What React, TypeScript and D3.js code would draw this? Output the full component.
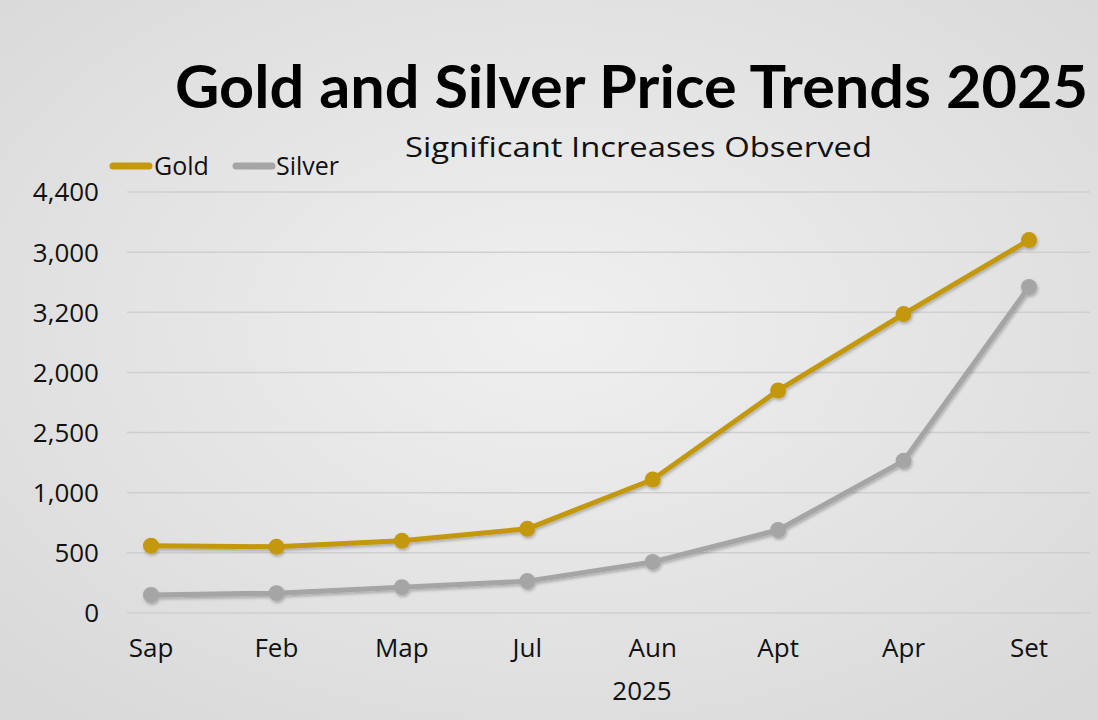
import React, { useEffect, useRef } from 'react';
import * as d3 from 'd3';

// months as printed on the x axis
const months = ['Sap', 'Feb', 'Map', 'Jul', 'Aun', 'Apt', 'Apr', 'Set'];
// y tick labels as printed (bottom to top), evenly spaced gridlines
const yTickLabels = ['0', '500', '1,000', '2,500', '2,000', '3,200', '3,000', '4,400'];
// values measured in gridline steps (0 = bottom line, 7 = top line)
const goldValues = [1.12, 1.1, 1.2, 1.4, 2.22, 3.7, 4.97, 6.2];
const silverValues = [0.3, 0.33, 0.43, 0.53, 0.85, 1.38, 2.53, 5.42];

const series = [
  { name: 'Gold', values: goldValues, color: '#c4980f' },
  { name: 'Silver', values: silverValues, color: '#a5a5a5' },
];

const W = 1098;
const H = 720;
const FONT = '"Open Sans", sans-serif';

const App = () => {
  const ref = useRef<SVGSVGElement>(null);

  useEffect(() => {
    const svg = d3.select(ref.current);
    svg.selectAll('*').remove();

    const defs = svg.append('defs');
    const bg = defs.append('radialGradient').attr('id', 'bg')
      .attr('cx', '50%').attr('cy', '45%').attr('r', '70%');
    bg.append('stop').attr('offset', '0%').attr('stop-color', '#f0f0f0');
    bg.append('stop').attr('offset', '100%').attr('stop-color', '#d9d9d9');

    const shadow = defs.append('filter').attr('id', 'shadow')
      .attr('x', '-10%').attr('y', '-10%').attr('width', '120%').attr('height', '130%');
    shadow.append('feDropShadow').attr('dx', 1).attr('dy', 2)
      .attr('stdDeviation', 1.5).attr('flood-color', '#000').attr('flood-opacity', 0.25);

    svg.append('rect').attr('width', W).attr('height', H).attr('fill', 'url(#bg)');

    const x = d3.scalePoint<string>().domain(months).range([151, 1029]);
    const y = d3.scaleLinear().domain([0, 7]).range([613, 192]);

    // gridlines
    svg.append('g').selectAll('line')
      .data(yTickLabels)
      .enter().append('line')
      .attr('x1', 127).attr('x2', 1090)
      .attr('y1', (_, i) => y(i)).attr('y2', (_, i) => y(i))
      .attr('stroke', '#cfcfcf').attr('stroke-width', 1.5);

    // y labels
    svg.append('g').selectAll('text')
      .data(yTickLabels)
      .enter().append('text')
      .attr('x', 99).attr('y', (_, i) => y(i))
      .attr('dy', '0.36em')
      .attr('text-anchor', 'end')
      .attr('font-family', FONT).attr('font-size', 26).attr('fill', '#111')
      .text(d => d);

    // x labels
    svg.append('g').selectAll('text')
      .data(months)
      .enter().append('text')
      .attr('x', d => x(d)!).attr('y', 657)
      .attr('text-anchor', 'middle')
      .attr('font-family', FONT).attr('font-size', 26).attr('fill', '#111')
      .text(d => d);

    svg.append('text')
      .attr('x', 642).attr('y', 700)
      .attr('text-anchor', 'middle')
      .attr('font-family', FONT).attr('font-size', 26).attr('fill', '#111')
      .text('2025');

    const line = d3.line<number>()
      .x((_, i) => x(months[i])!)
      .y(d => y(d));

    series.forEach(s => {
      const g = svg.append('g').attr('filter', 'url(#shadow)');
      g.append('path')
        .datum(s.values)
        .attr('d', line)
        .attr('fill', 'none')
        .attr('stroke', s.color)
        .attr('stroke-width', 5)
        .attr('stroke-linejoin', 'round');
      g.selectAll('circle')
        .data(s.values)
        .enter().append('circle')
        .attr('cx', (_, i) => x(months[i])!)
        .attr('cy', d => y(d))
        .attr('r', 8)
        .attr('fill', s.color);
    });

    // legend
    const legend = svg.append('g');
    [{ x0: 113, tx: 154 }, { x0: 236, tx: 276 }].forEach((p, i) => {
      legend.append('line')
        .attr('x1', p.x0).attr('x2', p.x0 + 36)
        .attr('y1', 166).attr('y2', 166)
        .attr('stroke', series[i].color).attr('stroke-width', 7)
        .attr('stroke-linecap', 'round');
      legend.append('text')
        .attr('x', p.tx).attr('y', 175)
        .attr('font-family', FONT).attr('font-size', 25).attr('fill', '#111')
        .text(series[i].name);
    });

    // titles
    svg.append('text')
      .attr('x', 175).attr('y', 108)
      .attr('font-family', 'Lato, sans-serif').attr('font-weight', 'bold').attr('font-size', 60)
      .attr('fill', '#000')
      .attr('textLength', 913).attr('lengthAdjust', 'spacingAndGlyphs')
      .text('Gold and Silver Price Trends 2025');

    svg.append('text')
      .attr('x', 405).attr('y', 157)
      .attr('font-family', FONT).attr('font-size', 28).attr('fill', '#111')
      .attr('textLength', 467).attr('lengthAdjust', 'spacingAndGlyphs')
      .text('Significant Increases Observed');
  }, []);

  return (
    <svg ref={ref} width={W} height={H}
      style={{ position: 'absolute', left: 0, top: 0, display: 'block' }} />
  );
};

export default App;
